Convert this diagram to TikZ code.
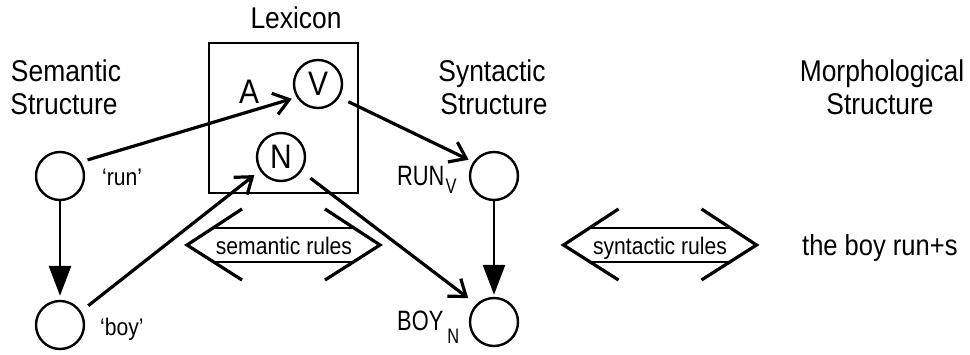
\documentclass[tikz,border=0pt]{standalone}
\usepackage{fontspec}
\setmainfont{Liberation Sans}[FakeStretch=0.88]
\newfontfamily\narrowsans{Liberation Sans}[FakeStretch=0.78]
\usetikzlibrary{arrows.meta}
\begin{document}
\begin{tikzpicture}[x=1pt,y=-1pt,
  circ/.style={draw, circle, line width=2.4pt, minimum size=48pt, inner sep=0pt, font=\fontsize{34}{34}\selectfont},
  hdr/.style={font=\fontsize{30}{34}\selectfont, anchor=base, inner sep=0pt},
  small/.style={font=\fontsize{24}{24}\selectfont, anchor=base west, inner sep=0pt},
  labsub/.style={font=\narrowsans\fontsize{28}{28}\selectfont, anchor=base west, inner sep=0pt},
  rulestext/.style={font=\fontsize{24}{24}\selectfont, anchor=base, inner sep=0pt},
  barb/.style={line width=3.2pt, -{Straight Barb[length=15pt,width=22pt]}},
  tri/.style={line width=2.6pt, -{Triangle[length=30pt,width=22pt]}},
  rulesarrow/.pic={
    \draw[line width=3.2pt] (-41.5,-36) -- (-96.5,0) -- (-41.5,35);
    \draw[line width=3.2pt] (41.5,-36) -- (96.5,0) -- (41.5,35);
    \draw[line width=2.2pt] (-70.5,-17) -- (70.5,-17) (-70.5,17) -- (70.5,17);
  }]
\useasboundingbox (0,0) rectangle (970,354);
% headers
\node[hdr] (lexlab) at (296,28) {Lexicon};
\node[hdr] (semh1) at (66,81) {Semantic};
\node[hdr] (semh2) at (64,114) {Structure};
\node[hdr] (synh1) at (492,81) {Syntactic};
\node[hdr] (synh2) at (494,114) {Structure};
\node[hdr] (morh1) at (882,81) {Morphological};
\node[hdr] (morh2) at (880,114) {Structure};
% lexicon box
\node[draw, line width=2.8pt, minimum width=149pt, minimum height=150pt, inner sep=0pt] (lex) at (283.5,118) {};
\node[font=\fontsize{34}{34}\selectfont, anchor=base, inner sep=0pt] (A) at (249,103) {A};
\node[circ] (V) at (318,84) {V};
\node[circ] (N) at (281,157) {N};
% semantic
\node[circ] (s1) at (60,176) {};
\node[circ] (s2) at (60,325) {};
\node[small] (run) at (102,185) {‘run’};
\node[small] (boy) at (100,335) {‘boy’};
% syntactic
\node[circ] (y1) at (494,176) {};
\node[circ] (y2) at (494,322) {};
\node[labsub] (runv) at (397,185) {RUN\hspace{1pt}\raisebox{-8pt}{\fontsize{21}{21}\selectfont V}};
\node[labsub] (boyn) at (397,330) {BOY\hspace{4pt}\raisebox{-13pt}{\fontsize{21}{21}\selectfont N}};
% rules
\pic at (283.5,245) {rulesarrow};
\node[rulestext] (semr) at (284,254) {semantic rules};
\pic at (660,245) {rulesarrow};
\node[rulestext] (synr) at (660,254) {syntactic rules};
\node[font=\fontsize{29}{29}\selectfont, anchor=base west, inner sep=0pt] (morph) at (802,255) {the boy run+s};
% connectors
\draw[barb, shorten <=7pt, shorten >=5pt] (s1.34) -- (V.212);
\draw[barb, shorten <=9pt, shorten >=7pt] (s2.33) -- (N.213);
\draw[barb, shorten <=10pt, shorten >=5pt] (V.328) -- (y1.146);
\draw[barb, shorten <=11pt, shorten >=10pt] (N.325) -- (y2.135);
\draw[tri, shorten >=4pt] (s1) -- (s2);
\draw[tri, shorten >=2pt] (y1) -- (y2);
\end{tikzpicture}
\end{document}
